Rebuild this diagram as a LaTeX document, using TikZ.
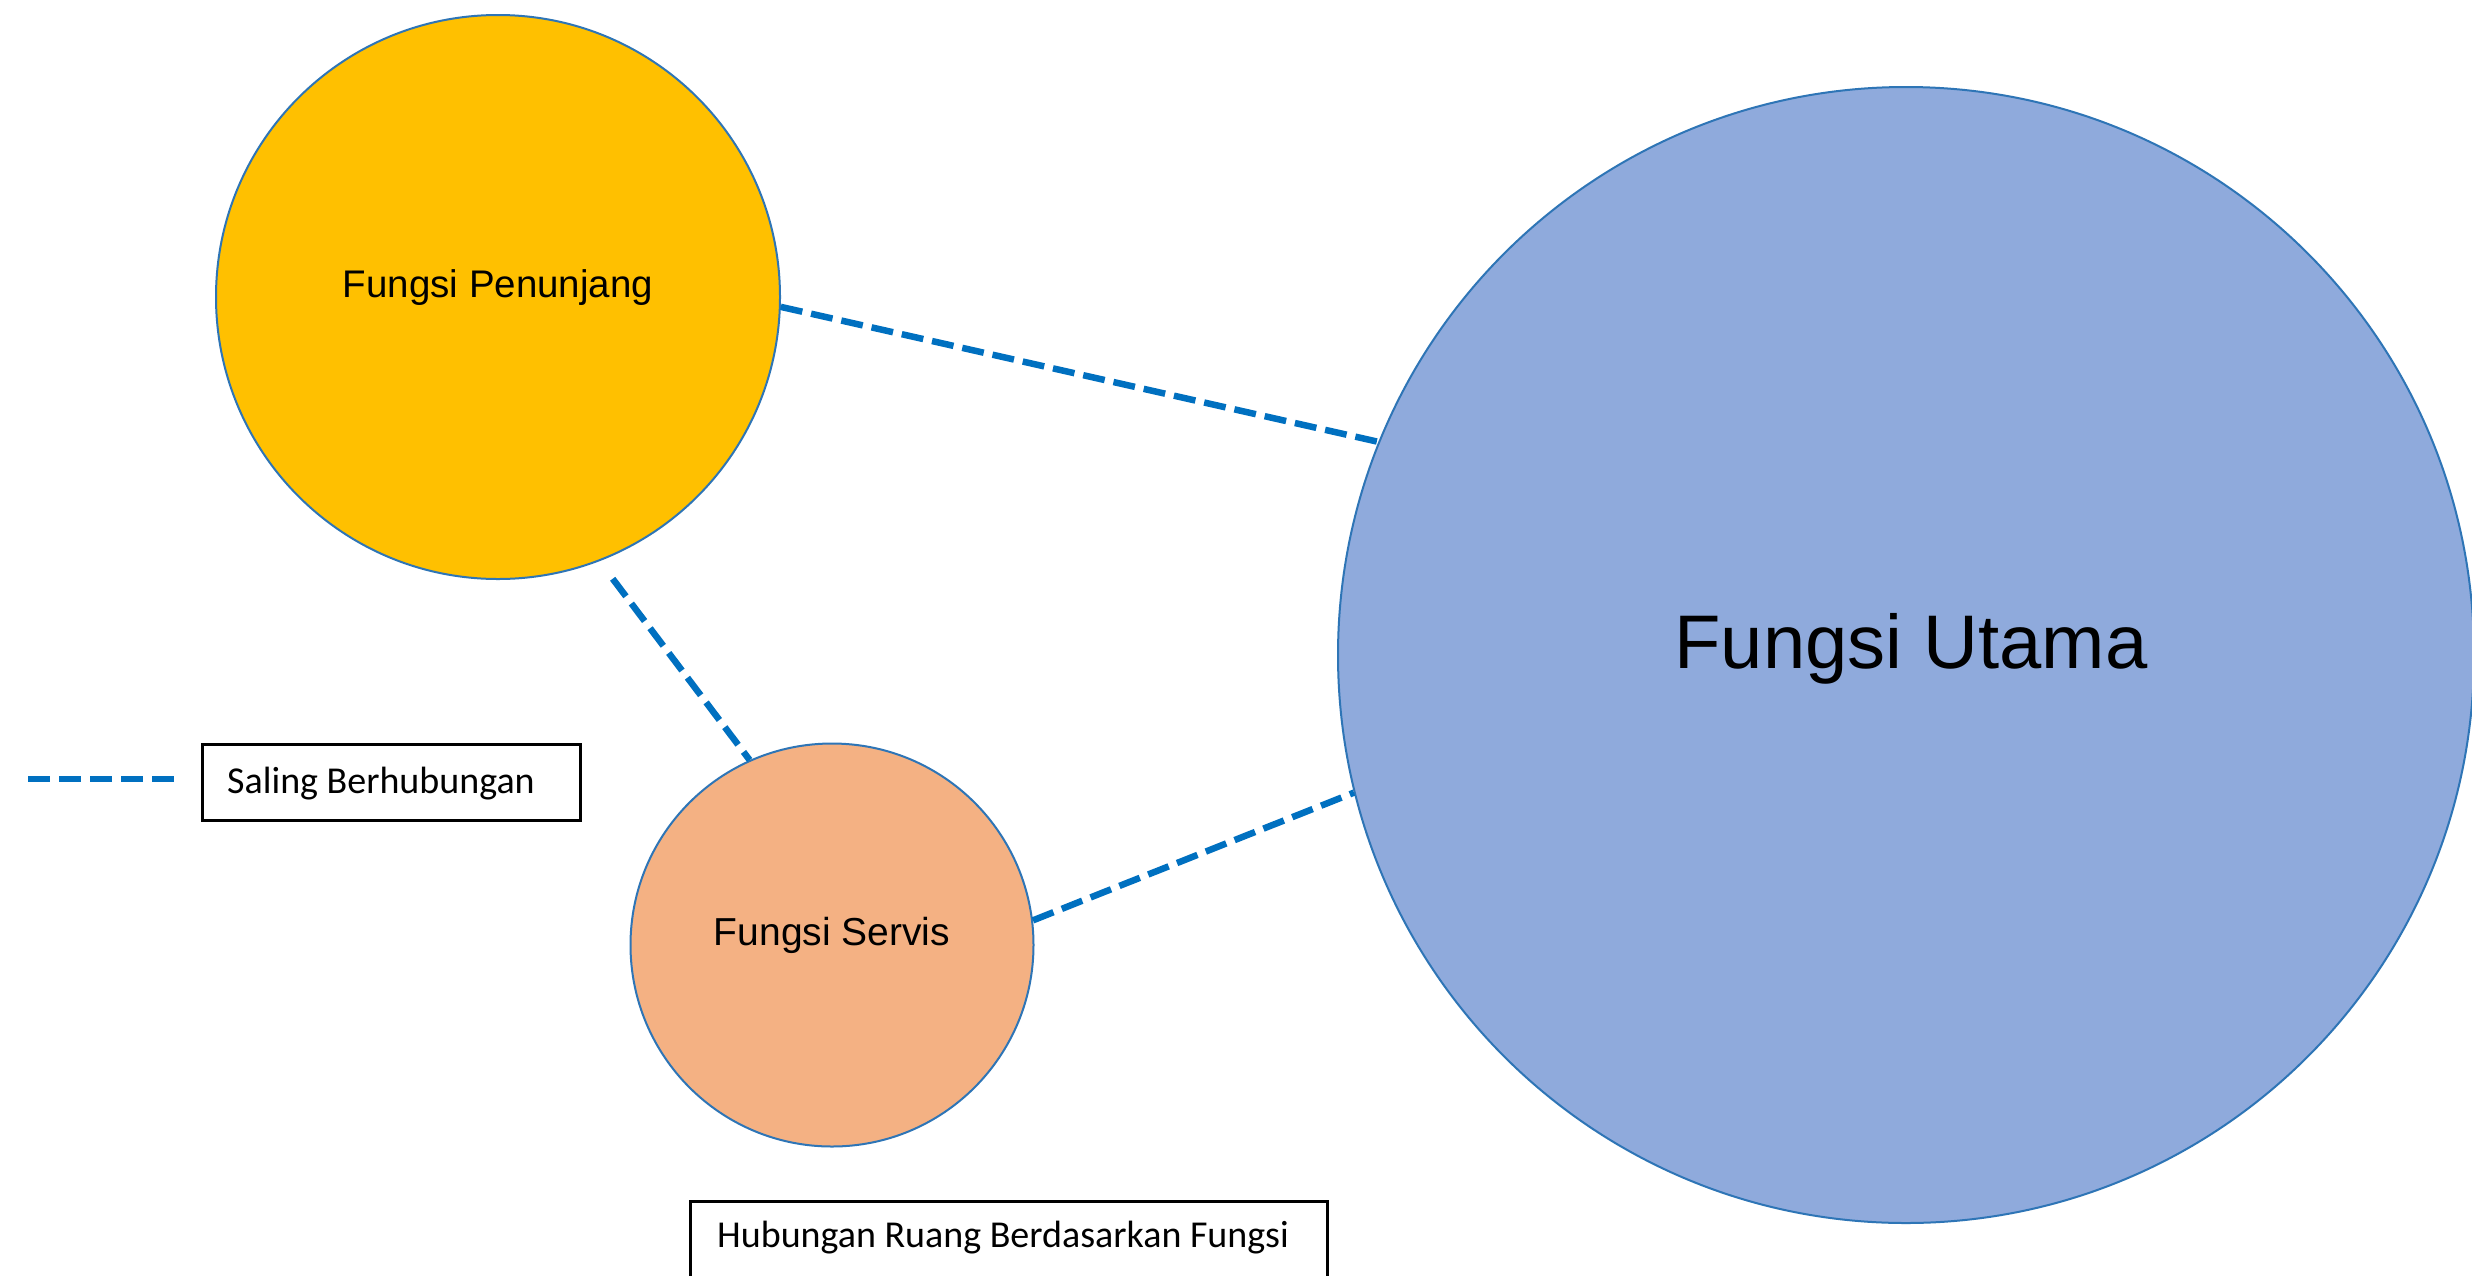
\documentclass[tikz,border=0pt]{standalone}
\usepackage{fontspec}
\setmainfont{Carlito}
\newfontfamily\arialish{Liberation Sans}
\definecolor{penfill}{HTML}{FFC000}
\definecolor{servfill}{HTML}{F4B183}
\definecolor{utfill}{HTML}{8FAADC}
\definecolor{rim}{HTML}{2E75B6}
\definecolor{linkblue}{HTML}{0070C0}
\begin{document}
\begin{tikzpicture}[x=1pt,y=-1pt,
  bubble/.style={circle,draw=rim,line width=2pt,inner sep=0pt},
  conn/.style={draw=linkblue,line width=6.5pt,dash pattern=on 22pt off 9pt},
  framebox/.style={draw=black,line width=3pt,inner sep=0pt},
  lbl/.style={inner sep=0pt,text=black}]
\useasboundingbox (0,0) rectangle (2472,1275);
\clip (0,0) rectangle (2472,1275);
\fill[white] (0,0) rectangle (2472,1275);
\node[bubble,fill=penfill,minimum size=564pt] (pen) at (498,297) {};
\node[bubble,fill=servfill,minimum size=403pt] (serv) at (832,945) {};
\node[bubble,fill=utfill,minimum size=1136pt] (ut) at (1906,655) {};
\node[lbl,font=\arialish\fontsize{38.5}{42}\selectfont] (pentxt) at (498,288) {Fungsi Penunjang};
\node[lbl,font=\arialish\fontsize{39}{42}\selectfont] (servtxt) at (832,935) {Fungsi Servis};
\node[lbl,font=\arialish\fontsize{76}{84}\selectfont] (uttxt) at (1911,649) {Fungsi Utama};
\draw[conn] (pen.-2.6) -- (ut.158.7);
\draw[conn] (serv.7) -- (ut.194.1);
\draw[conn,shorten <=22pt] (pen.-69) -- (serv.114);
\coordinate (l1) at (28,779);
\coordinate (l2) at (178,779);
\draw[conn] (l1) -- (l2);
\node[framebox,minimum width=378pt,minimum height=76pt] (legbox) at (391,782) {};
\node[lbl,anchor=west,font=\fontsize{38}{42}\selectfont] (legtxt) at (227,784) {Saling Berhubungan};
\node[framebox,minimum width=637pt,minimum height=110pt] (capbox) at (1008.5,1256) {};
\node[lbl,anchor=west,font=\fontsize{38}{42}\selectfont] (captxt) at (717,1238) {Hubungan Ruang Berdasarkan Fungsi};
\end{tikzpicture}
\end{document}
